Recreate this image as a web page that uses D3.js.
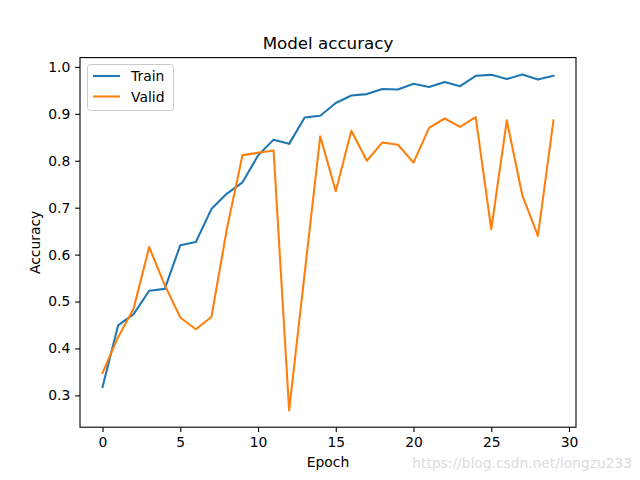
<!DOCTYPE html>
<html><head><meta charset="utf-8">
<script src="https://cdn.jsdelivr.net/npm/d3@7"></script>
<style>body{margin:0;background:#fff}svg{display:block}text{font-family:"DejaVu Sans",sans-serif}</style>
</head><body>
<svg id="c" width="640" height="480"></svg>
<script>
const epochs = d3.range(0, 30);
const train = [0.318,0.449,0.473,0.523,0.527,0.620,0.627,0.697,0.730,0.754,0.811,0.845,0.836,0.892,0.896,0.923,0.939,0.942,0.953,0.952,0.964,0.957,0.968,0.959,0.981,0.983,0.974,0.984,0.973,0.981];
const valid = [0.348,0.424,0.485,0.616,0.535,0.466,0.441,0.467,0.655,0.812,0.817,0.822,0.268,0.560,0.852,0.735,0.864,0.800,0.839,0.834,0.796,0.870,0.890,0.872,0.893,0.654,0.886,0.726,0.640,0.886];
const xTicks = [0,5,10,15,20,25,30];
const yTicks = [0.3,0.4,0.5,0.6,0.7,0.8,0.9,1.0];
const seriesNames = ["Train","Valid"];
const colors = ["#1f77b4","#ff7f0e"];

const svg = d3.select("#c");
const L=80,R=576,T=57.6,B=427.2;
const all = train.concat(valid);
const ymin=d3.min(all), ymax=d3.max(all), yp=(ymax-ymin)*0.05;
const x = d3.scaleLinear().domain([-1.45,30.45]).range([L,R]);
const y = d3.scaleLinear().domain([ymin-yp,ymax+yp]).range([B,T]);

const xa = svg.append("g").attr("transform",`translate(0,${B})`)
  .call(d3.axisBottom(x).tickValues(xTicks).tickFormat(d3.format("d")).tickSize(4.86).tickPadding(4.86).tickSizeOuter(0));
const ya = svg.append("g").attr("transform",`translate(${L},0)`)
  .call(d3.axisLeft(y).tickValues(yTicks).tickFormat(d3.format(".1f")).tickSize(4.86).tickPadding(4.86).tickSizeOuter(0));
[xa,ya].forEach(a=>{a.select(".domain").remove();a.selectAll("text").attr("font-size","13.9px").attr("fill","#000").attr("font-family","DejaVu Sans");a.selectAll("line").attr("stroke","#000").attr("stroke-width",1.1);});

const line = d3.line().x((d,i)=>x(epochs[i])).y(d=>y(d));
[train,valid].forEach((s,k)=>{
  svg.append("path").datum(s).attr("d",line).attr("fill","none").attr("stroke",colors[k]).attr("stroke-width",2.08).attr("stroke-linejoin","round").attr("stroke-linecap","square");
});

svg.append("rect").attr("x",L).attr("y",T).attr("width",R-L).attr("height",B-T).attr("fill","none").attr("stroke","#000").attr("stroke-width",1.1);

svg.append("text").attr("x",(L+R)/2).attr("y",49).attr("text-anchor","middle").attr("font-size","16.7px").text("Model accuracy");
svg.append("text").attr("x",(L+R)/2).attr("y",467).attr("text-anchor","middle").attr("font-size","13.9px").text("Epoch");
svg.append("text").attr("transform",`translate(40,${(T+B)/2}) rotate(-90)`).attr("text-anchor","middle").attr("font-size","13.9px").text("Accuracy");

const lg = svg.append("g");
lg.append("rect").attr("x",87.5).attr("y",64.5).attr("width",86).attr("height",46).attr("rx",3).attr("fill","#fff").attr("fill-opacity",0.8).attr("stroke","#ccc");
seriesNames.forEach((n,k)=>{
  const yy = 76+k*20.5;
  lg.append("line").attr("x1",93).attr("x2",120).attr("y1",yy).attr("y2",yy).attr("stroke",colors[k]).attr("stroke-width",2.08);
  lg.append("text").attr("x",131).attr("y",yy+5).attr("font-size","13.9px").text(n);
});

svg.append("text").attr("x",632).attr("y",468).attr("text-anchor","end").attr("font-size","13.8px").attr("font-family","Liberation Sans").attr("fill","#dcdcdc").text("https://blog.csdn.net/longzu233");
</script>
</body></html>
